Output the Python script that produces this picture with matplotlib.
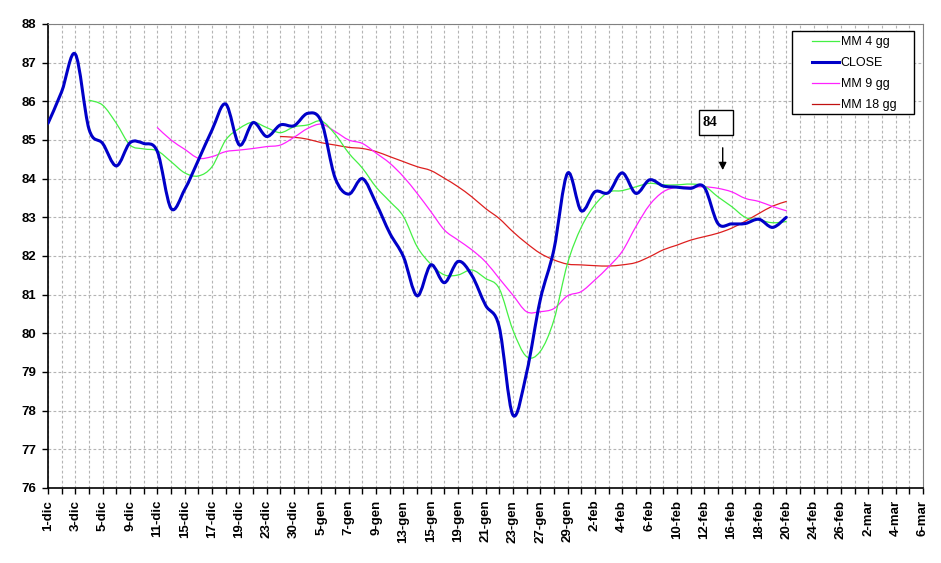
import numpy as np
import matplotlib
matplotlib.use("Agg")
import matplotlib.pyplot as plt
from matplotlib.path import Path
from matplotlib.patches import PathPatch, Rectangle
from matplotlib.lines import Line2D

plt.rcParams['font.family'] = ['Liberation Sans', 'DejaVu Sans']

# categorie (giorni di borsa), etichetta una ogni due
dates = ['1-dic', '2-dic', '3-dic', '4-dic', '5-dic', '8-dic', '9-dic', '10-dic', '11-dic', '12-dic',
         '15-dic', '16-dic', '17-dic', '18-dic', '19-dic', '22-dic', '23-dic', '29-dic', '30-dic', '2-gen',
         '5-gen', '6-gen', '7-gen', '8-gen', '9-gen', '12-gen', '13-gen', '14-gen', '15-gen', '16-gen',
         '19-gen', '20-gen', '21-gen', '22-gen', '23-gen', '26-gen', '27-gen', '28-gen', '29-gen', '30-gen',
         '2-feb', '3-feb', '4-feb', '5-feb', '6-feb', '9-feb', '10-feb', '11-feb', '12-feb', '13-feb',
         '16-feb', '17-feb', '18-feb', '19-feb', '20-feb', '23-feb', '24-feb', '25-feb', '26-feb', '27-feb',
         '2-mar', '3-mar', '4-mar', '5-mar', '6-mar']

close = [85.43, 86.25, 87.22, 85.28, 84.91, 84.33, 84.93, 84.91, 84.7, 83.23,
         83.72, 84.48, 85.26, 85.93, 84.87, 85.45, 85.09, 85.39, 85.37, 85.69,
         85.47, 84.02, 83.6, 84.0, 83.36, 82.59, 81.98, 80.97, 81.77, 81.31,
         81.86, 81.5, 80.73, 80.17, 77.89, 78.97, 80.86, 82.16, 84.14, 83.17,
         83.66, 83.64, 84.15, 83.62, 83.97, 83.81, 83.78, 83.75, 83.78, 82.84,
         82.83, 82.84, 82.95, 82.74, 83.0]

# medie mobili: primo indice e valori letti
mm4_start = 3
mm4 = [86.03, 85.9, 85.43, 84.87, 84.77, 84.72, 84.44, 84.15, 84.07, 84.31,
       85.0, 85.3, 85.46, 85.32, 85.19, 85.34, 85.39, 85.49, 85.15, 84.66,
       84.27, 83.78, 83.41, 83.02, 82.24, 81.79, 81.51, 81.51, 81.64, 81.42,
       81.16, 80.09, 79.4, 79.53, 80.34, 81.81, 82.74, 83.32, 83.65, 83.69,
       83.79, 83.88, 83.84, 83.84, 83.86, 83.81, 83.53, 83.28, 83.0, 82.93,
       82.86, 82.89]

mm9_start = 8
mm9 = [85.32, 85.0, 84.76, 84.53, 84.57, 84.7, 84.74, 84.78, 84.83, 84.87,
       85.07, 85.3, 85.41, 85.22, 85.0, 84.91, 84.66, 84.4, 84.05, 83.62,
       83.15, 82.67, 82.41, 82.16, 81.85, 81.42, 80.99, 80.56, 80.56, 80.64,
       80.97, 81.08, 81.38, 81.72, 82.12, 82.76, 83.32, 83.66, 83.78, 83.78,
       83.79, 83.75, 83.66, 83.49, 83.41, 83.28, 83.17]

mm18_start = 17
mm18 = [85.09, 85.07, 85.02, 84.93, 84.87, 84.81, 84.78, 84.7, 84.57, 84.44,
        84.31, 84.21, 84.01, 83.79, 83.53, 83.23, 82.97, 82.63, 82.33, 82.07,
        81.9, 81.79, 81.77, 81.75, 81.74, 81.77, 81.83, 81.98, 82.16, 82.28,
        82.41, 82.5, 82.59, 82.72, 82.9, 83.1, 83.29, 83.41]


def smooth(xs, ys):
    # curva "smussata" come Excel (Bezier Catmull-Rom)
    pts = np.column_stack([xs, ys])
    n = len(pts)
    verts = [pts[0]]
    codes = [Path.MOVETO]
    for k in range(n - 1):
        p0 = pts[max(k - 1, 0)]
        p1 = pts[k]
        p2 = pts[k + 1]
        p3 = pts[min(k + 2, n - 1)]
        verts += [p1 + (p2 - p0) / 6, p2 - (p3 - p1) / 6, p2]
        codes += [Path.CURVE4] * 3
    return Path(verts, codes)


fig = plt.figure(figsize=(9.41, 5.63), dpi=100)
ax = fig.add_axes([48 / 941, 1 - 488 / 563, 875 / 941, 464 / 563])

series = [
    (mm18_start, mm18, '#DD1F1F', 0.9, 'MM 18 gg'),
    (mm9_start, mm9, '#FF22FF', 0.9, 'MM 9 gg'),
    (mm4_start, mm4, '#44F044', 0.9, 'MM 4 gg'),
    (0, close, '#0000C8', 2.2, 'CLOSE'),
]
for start, vals, col, lw, name in series:
    xs = np.arange(start, start + len(vals))
    ax.add_patch(PathPatch(smooth(xs, vals), facecolor='none', edgecolor=col,
                           lw=lw, capstyle='round', joinstyle='round', zorder=3))

ax.set_xlim(0, len(dates) - 1)
ax.set_ylim(76, 88)
ax.set_yticks(range(76, 89))
ax.set_xticks(range(len(dates)))
ax.set_xticklabels([d if i % 2 == 0 else '' for i, d in enumerate(dates)],
                   rotation=90, fontsize=9.5, fontweight='bold')
for lab in ax.get_yticklabels():
    lab.set_fontsize(9.5)
    lab.set_fontweight('bold')
ax.tick_params(axis='both', direction='out', length=4, width=1, color='black', pad=4.5)

ax.grid(True, color='#B4B4B4', linestyle=(0, (2.5, 2)), linewidth=0.8, zorder=0)
ax.set_axisbelow(True)
for s in ['top', 'right']:
    ax.spines[s].set_color('#808080')
for s in ['left', 'bottom']:
    ax.spines[s].set_color('black')
    ax.spines[s].set_linewidth(1.2)

# legenda: cornice disegnata a parte per avere i margini larghi
ax.add_patch(Rectangle((0.8507, 0.8054), 0.139, 0.1802, transform=ax.transAxes,
                       facecolor='white', edgecolor='black', lw=1, zorder=5))
handles = [Line2D([], [], color='#44F044', lw=0.9),
           Line2D([], [], color='#0000C8', lw=2.2),
           Line2D([], [], color='#FF22FF', lw=0.9),
           Line2D([], [], color='#C01010', lw=0.9)]
leg = ax.legend(handles, ['MM 4 gg', 'CLOSE', 'MM 9 gg', 'MM 18 gg'],
                loc='upper left', bbox_to_anchor=(0.8736, 0.9735), borderaxespad=0,
                frameon=False, fontsize=9, borderpad=0,
                handlelength=2.1, handletextpad=0.15, labelspacing=0.72)
leg.set_zorder(6)

# riquadro con il valore e freccia
ax.add_patch(Rectangle((47.62, 85.12), 2.49, 0.65, facecolor='white',
                       edgecolor='black', lw=1, zorder=4))
ax.text(47.9, 85.45, '84', family=['Liberation Serif', 'DejaVu Serif'],
        fontweight='bold', fontsize=10.5, va='center', ha='left', zorder=5)
ax.annotate('', xy=(49.35, 84.15), xytext=(49.35, 84.87),
            arrowprops=dict(arrowstyle='-|>', color='black', lw=1,
                            mutation_scale=11), zorder=5)

fig.savefig('out.png', dpi=100)
